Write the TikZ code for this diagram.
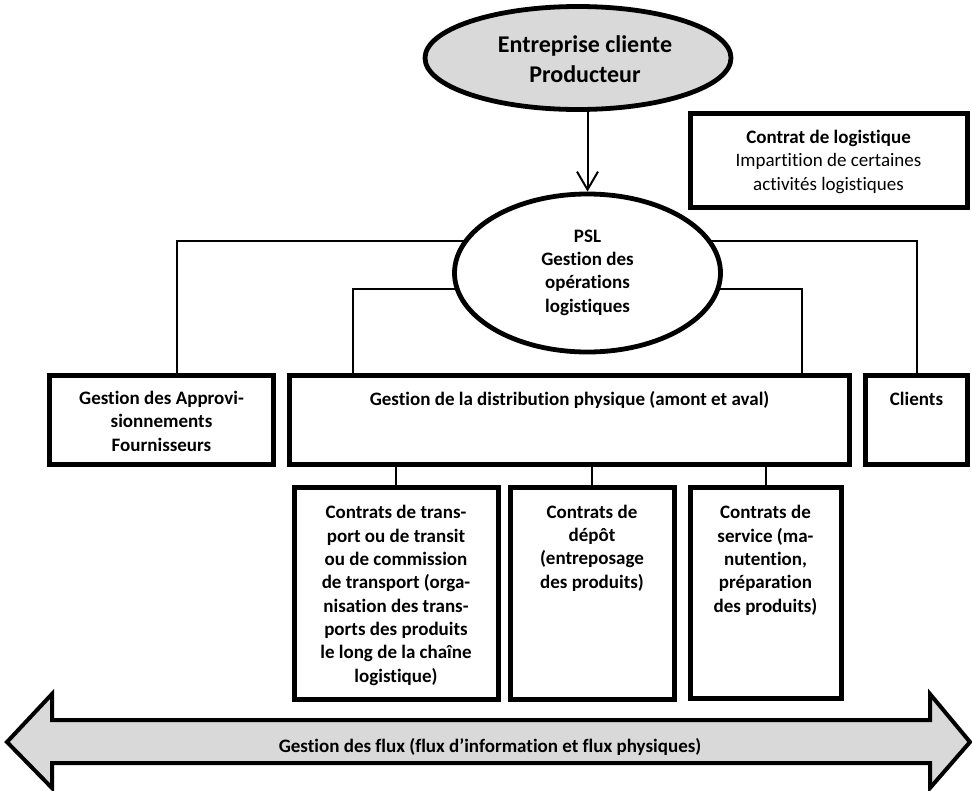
\documentclass[tikz,border=0pt]{standalone}
\usepackage{fontspec}
\setmainfont{Carlito}[RawFeature=-liga]
\usetikzlibrary{arrows.meta,backgrounds,shapes.geometric}
\definecolor{lgray}{HTML}{D9D9D9}
\begin{document}
\begin{tikzpicture}[x=1pt,y=-1pt,
  box/.style={draw, line width=5pt, inner sep=0pt, fill=white},
  conn/.style={draw, line width=1.4pt},
  txt/.style={align=center, inner sep=0pt, anchor=base, font=\fontsize{19}{23.3}\selectfont\bfseries},
  txtn/.style={align=center, inner sep=0pt, anchor=base, font=\fontsize{19}{23.3}\selectfont},
  ell/.style={draw, ellipse, line width=4.8pt, inner sep=0pt},
]
\useasboundingbox (0,0) rectangle (972,790);

% ellipses
\node[ell, fill=lgray, minimum width=306pt, minimum height=103pt] (top) at (578,58) {};
\node[align=center, inner sep=0pt, anchor=base, font=\fontsize{24}{30}\selectfont\bfseries] (toptxt) at (585,82) {Entreprise cliente\\Producteur};

\node[ell, fill=white, minimum width=266pt, minimum height=158pt] (psl) at (587.5,273) {};
\node[txt] (psltxt) at (587.5,312) {PSL\\Gestion des\\opérations\\logistiques};

% contract box
\node[box, minimum width=277pt, minimum height=94pt] (contrat) at (828.5,160) {};
\node[txtn] (contrattxt) at (828.5,190) {\bfseries Contrat de logistique\\Impartition de certaines\\activités logistiques};

% middle row
\node[box, minimum width=224pt, minimum height=89pt] (appro) at (161.5,420) {};
\node[txt] (approtxt) at (161.5,451) {Gestion des Approvi-\\sionnements\\Fournisseurs};
\node[box, minimum width=560pt, minimum height=89pt] (distrib) at (569.5,420) {};
\node[txt] (distribtxt) at (569.5,405) {Gestion de la distribution physique (amont et aval)};
\node[box, minimum width=102pt, minimum height=89pt] (clients) at (916.5,420) {};
\node[txt] (clientstxt) at (916.5,405) {Clients};

% lower row
\node[box, minimum width=204pt, minimum height=212pt] (cA) at (396,593) {};
\node[txt] (cAtxt) at (396,682) {Contrats de trans-\\port ou de transit\\ou de commission\\de transport (orga-\\nisation des trans-\\ports des produits\\le long de la chaîne\\logistique)};
\node[box, minimum width=164pt, minimum height=212pt] (cB) at (592,593) {};
\node[txt] (cBtxt) at (592,588) {Contrats de\\dépôt\\(entreposage\\des produits)};
\node[box, minimum width=151pt, minimum height=211pt] (cC) at (765.5,592.5) {};
\node[txt] (cCtxt) at (765.5,612) {Contrats de\\service (ma-\\nutention,\\préparation\\des produits)};

% connectors (behind)
\begin{pgfonlayer}{background}
\draw[conn] ([yshift=32pt]psl.center) -| ([xshift=15.5pt]appro.north);
\draw[conn] ([yshift=-16pt]psl.center) -| ([xshift=-216.5pt]distrib.north);
\draw[conn] ([yshift=-16pt]psl.center) -| ([xshift=232.5pt]distrib.north);
\draw[conn] ([yshift=32pt]psl.center) -| ([xshift=0.5pt]clients.north);
\draw[conn] (cA.north |- distrib.south) -- (cA.north);
\draw[conn] (cB.north |- distrib.south) -- (cB.north);
\draw[conn] ([xshift=0.5pt]cC.north |- distrib.south) -- ([xshift=0.5pt]cC.north);
\end{pgfonlayer}

\draw[line width=2pt, -{Straight Barb[length=18pt,width=21pt,line width=2pt]}] (top.south -| psl.north) -- (psl.north);

% big double arrow
\draw[line width=4pt, fill=lgray, line join=miter] (7,742) -- (52,694) -- (52,720) -- (930,720) -- (930,694) -- (970,742) -- (930,788) -- (930,763) -- (52,763) -- (52,788) -- cycle;
\node[inner sep=0pt, anchor=base, font=\fontsize{19}{23}\selectfont\bfseries] (flux) at (490,752) {Gestion des flux (flux d’information et flux physiques)};
\end{tikzpicture}
\end{document}
